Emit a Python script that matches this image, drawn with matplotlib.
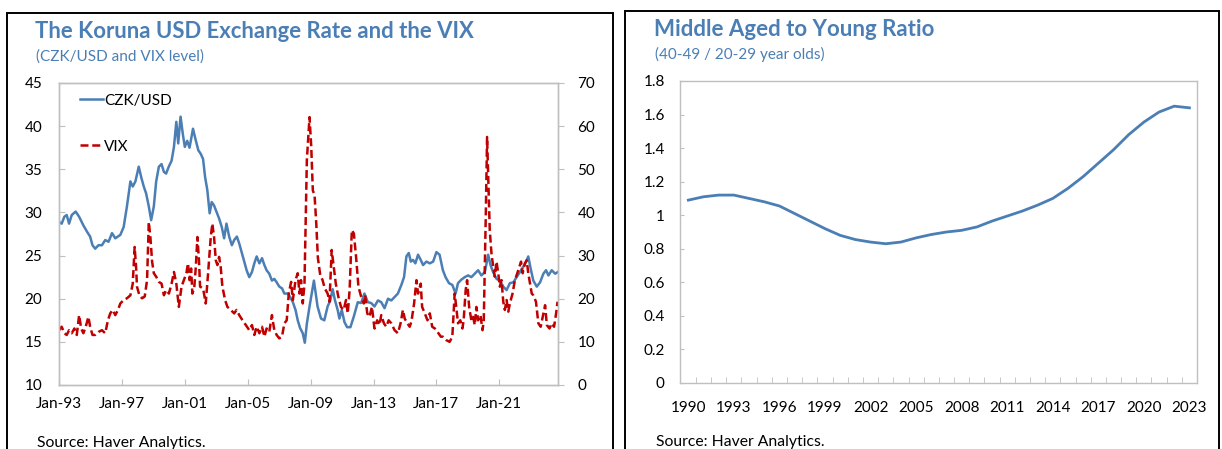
import matplotlib
matplotlib.use("Agg")
import matplotlib.pyplot as plt
from matplotlib.patches import Rectangle

plt.rcParams['font.family'] = ['Lato', 'DejaVu Sans']

# --- left panel: CZK/USD and VIX (decimal years) ---
czk_t = [1993.00, 1993.17, 1993.34, 1993.49, 1993.64, 1993.81, 1994.06, 1994.28, 1994.55, 1994.77,
         1994.98, 1995.13, 1995.30, 1995.51, 1995.73, 1995.94, 1996.15, 1996.37, 1996.58, 1996.90,
         1997.11, 1997.32, 1997.54, 1997.69, 1997.86, 1998.07, 1998.24, 1998.39, 1998.54, 1998.71,
         1998.86, 1999.03, 1999.18, 1999.35, 1999.52, 1999.67, 1999.81, 1999.98, 2000.16, 2000.31,
         2000.46, 2000.58, 2000.73, 2000.88, 2001.00, 2001.15, 2001.30, 2001.52, 2001.69, 2001.86,
         2002.01, 2002.16, 2002.29, 2002.43, 2002.58, 2002.71, 2002.86, 2003.01, 2003.18, 2003.35,
         2003.50, 2003.65, 2003.82, 2003.99, 2004.14, 2004.31, 2004.46, 2004.63, 2004.78, 2004.93,
         2005.10, 2005.27, 2005.42, 2005.57, 2005.74, 2005.91, 2006.06, 2006.20, 2006.37, 2006.54,
         2006.69, 2006.84, 2007.01, 2007.18, 2007.33, 2007.54, 2007.70, 2007.87, 2008.04, 2008.18,
         2008.33, 2008.50, 2008.63, 2008.76, 2008.93, 2009.21, 2009.44, 2009.66, 2009.87, 2010.08,
         2010.25, 2010.40, 2010.55, 2010.72, 2010.83, 2010.98, 2011.15, 2011.32, 2011.53, 2011.74,
         2012.00, 2012.21, 2012.42, 2012.64, 2012.85, 2013.06, 2013.28, 2013.49, 2013.70, 2013.92,
         2014.13, 2014.34, 2014.55, 2014.77, 2014.94, 2015.09, 2015.24, 2015.37, 2015.51, 2015.66,
         2015.83, 2016.00, 2016.15, 2016.36, 2016.58, 2016.79, 2017.00, 2017.20, 2017.41, 2017.58,
         2017.80, 2018.01, 2018.22, 2018.37, 2018.58, 2018.80, 2019.01, 2019.22, 2019.44, 2019.65,
         2019.86, 2020.08, 2020.29, 2020.44, 2020.60, 2020.82, 2021.03, 2021.25, 2021.46, 2021.67,
         2021.89, 2022.10, 2022.31, 2022.52, 2022.70, 2022.84, 2022.99, 2023.16, 2023.38, 2023.59,
         2023.80, 2023.97, 2024.12, 2024.33, 2024.55, 2024.73]
czk = [28.9, 28.7, 29.5, 29.7, 28.7, 29.7, 30.1, 29.5, 28.5, 27.8,
       27.2, 26.2, 25.8, 26.2, 26.2, 26.8, 26.6, 27.6, 27.0, 27.4,
       28.3, 30.7, 33.6, 33.0, 33.6, 35.3, 34.0, 33.0, 32.2, 30.7,
       29.1, 30.7, 33.6, 35.3, 35.6, 34.7, 34.5, 35.3, 36.0, 37.6,
       40.5, 38.0, 41.1, 39.0, 37.6, 38.3, 37.5, 39.7, 38.4, 37.2,
       36.8, 36.2, 34.1, 32.6, 29.9, 31.2, 30.8, 30.1, 29.3, 28.3,
       27.0, 28.7, 27.2, 26.2, 26.8, 27.2, 26.4, 25.3, 24.3, 23.3,
       22.5, 23.1, 24.1, 24.9, 24.1, 24.7, 23.9, 23.3, 22.9, 22.1,
       22.3, 21.9, 21.4, 21.2, 20.6, 20.6, 20.2, 19.6, 18.7, 17.5,
       16.6, 16.0, 14.9, 17.1, 19.1, 22.1, 19.1, 17.7, 17.5, 19.1,
       19.8, 21.1, 19.8, 18.7, 17.7, 18.7, 17.3, 16.7, 16.7, 17.9,
       19.6, 19.5, 20.6, 19.6, 19.5, 19.1, 19.8, 19.6, 18.9, 20.0,
       19.8, 20.2, 20.6, 21.6, 22.5, 24.9, 25.3, 24.3, 24.5, 24.1,
       25.1, 24.5, 23.9, 24.3, 24.1, 24.3, 25.4, 25.1, 23.3, 22.5,
       21.8, 21.6, 20.6, 21.8, 22.2, 22.5, 22.7, 22.5, 22.9, 23.3,
       22.7, 23.1, 25.1, 23.9, 23.1, 22.3, 22.1, 21.4, 21.0, 21.8,
       21.9, 22.5, 23.1, 23.7, 24.3, 24.9, 23.5, 22.1, 21.4, 21.9,
       22.9, 23.3, 22.7, 23.3, 22.9, 23.1]

vix_t = [1993.00, 1993.17, 1993.34, 1993.49, 1993.64, 1993.81, 1993.98, 1994.13, 1994.28, 1994.41,
         1994.55, 1994.70, 1994.87, 1994.98, 1995.13, 1995.30, 1995.51, 1995.73, 1995.94, 1996.11,
         1996.26, 1996.41, 1996.58, 1996.75, 1996.90, 1997.11, 1997.32, 1997.54, 1997.69, 1997.81,
         1997.90, 1997.96, 1998.11, 1998.28, 1998.45, 1998.60, 1998.71, 1998.81, 1998.92, 1999.03,
         1999.18, 1999.35, 1999.52, 1999.67, 1999.82, 1999.99, 2000.16, 2000.31, 2000.46, 2000.62,
         2000.79, 2000.94, 2001.10, 2001.20, 2001.30, 2001.40, 2001.48, 2001.60, 2001.70, 2001.80,
         2001.90, 2001.97, 2002.16, 2002.33, 2002.48, 2002.65, 2002.75, 2002.86, 2002.97, 2003.07,
         2003.18, 2003.28, 2003.39, 2003.56, 2003.71, 2003.92, 2004.14, 2004.29, 2004.46, 2004.67,
         2004.88, 2005.10, 2005.27, 2005.42, 2005.57, 2005.74, 2005.91, 2006.06, 2006.20, 2006.37,
         2006.54, 2006.69, 2006.84, 2007.01, 2007.18, 2007.33, 2007.48, 2007.61, 2007.76, 2007.87,
         2008.04, 2008.18, 2008.29, 2008.39, 2008.50, 2008.61, 2008.76, 2008.93, 2009.04, 2009.14,
         2009.25, 2009.36, 2009.46, 2009.61, 2009.76, 2009.90, 2010.08, 2010.20, 2010.34, 2010.47,
         2010.60, 2010.76, 2010.93, 2011.10, 2011.25, 2011.36, 2011.48, 2011.62, 2011.75, 2011.89,
         2012.04, 2012.21, 2012.38, 2012.47, 2012.60, 2012.74, 2012.90, 2013.06, 2013.23, 2013.38,
         2013.49, 2013.66, 2013.81, 2013.96, 2014.13, 2014.34, 2014.55, 2014.72, 2014.87, 2014.98,
         2015.15, 2015.30, 2015.41, 2015.58, 2015.73, 2015.83, 2016.00, 2016.09, 2016.26, 2016.43,
         2016.58, 2016.73, 2016.90, 2017.07, 2017.28, 2017.41, 2017.63, 2017.84, 2018.01, 2018.16,
         2018.26, 2018.37, 2018.52, 2018.65, 2018.73, 2018.86, 2018.95, 2019.08, 2019.22, 2019.33,
         2019.44, 2019.54, 2019.65, 2019.80, 2019.93, 2020.01, 2020.14, 2020.22, 2020.31, 2020.39,
         2020.50, 2020.61, 2020.71, 2020.82, 2020.93, 2021.03, 2021.14, 2021.25, 2021.35, 2021.46,
         2021.57, 2021.67, 2021.84, 2021.99, 2022.14, 2022.27, 2022.38, 2022.48, 2022.63, 2022.74,
         2022.84, 2022.95, 2023.06, 2023.16, 2023.33, 2023.48, 2023.63, 2023.80, 2023.91, 2024.02,
         2024.19, 2024.33, 2024.48, 2024.61, 2024.70]
vix = [12.7, 13.5, 12.0, 11.6, 12.7, 12.0, 13.1, 11.6, 16.2, 13.1,
       12.0, 13.5, 15.8, 13.5, 11.6, 11.6, 12.3, 12.7, 12.0, 15.0,
       16.6, 17.4, 16.2, 17.4, 18.9, 19.7, 20.1, 20.8, 23.5, 32.0,
       27.4, 22.8, 20.8, 20.1, 20.5, 24.3, 37.8, 34.3, 28.6, 25.9,
       25.1, 23.9, 23.5, 20.8, 22.0, 21.2, 23.5, 26.2, 23.5, 18.1,
       22.8, 24.3, 25.9, 28.2, 24.3, 27.0, 21.2, 22.5, 27.4, 34.3,
       28.9, 22.8, 22.4, 18.9, 25.9, 34.3, 37.4, 34.3, 28.9, 27.8,
       29.7, 27.4, 22.8, 19.7, 18.1, 17.4, 16.6, 17.4, 16.2, 15.0,
       13.9, 12.7, 13.9, 11.6, 13.5, 12.0, 13.5, 11.2, 13.1, 12.3,
       16.2, 12.7, 11.6, 10.8, 11.2, 14.3, 15.0, 21.2, 23.9, 19.7,
       24.3, 25.9, 21.2, 24.3, 18.9, 23.5, 52.1, 62.1, 55.2, 45.1,
       44.0, 37.4, 29.5, 25.5, 24.3, 22.4, 21.2, 19.3, 31.3, 27.4,
       23.5, 20.5, 18.1, 17.4, 19.7, 16.6, 22.0, 35.9, 35.1, 29.7,
       22.8, 20.5, 18.9, 20.8, 16.6, 15.8, 18.1, 13.1, 15.0, 13.9,
       16.2, 14.3, 13.5, 15.0, 14.3, 12.7, 12.0, 14.3, 17.4, 15.4,
       14.3, 13.5, 14.7, 18.9, 24.3, 21.2, 23.5, 18.1, 16.6, 15.0,
       16.6, 13.5, 13.1, 12.3, 11.2, 11.2, 10.4, 10.0, 11.2, 21.2,
       18.1, 14.3, 15.0, 13.1, 15.0, 22.0, 24.3, 18.1, 15.0, 15.8,
       13.9, 18.1, 15.0, 16.2, 12.7, 15.0, 39.7, 57.5, 45.9, 35.9,
       30.5, 27.4, 25.1, 28.6, 25.9, 22.8, 24.3, 19.3, 17.4, 19.7,
       17.0, 18.9, 21.2, 24.3, 25.9, 27.4, 28.6, 25.9, 28.2, 28.9,
       25.9, 23.5, 21.2, 20.8, 19.3, 14.3, 13.5, 16.6, 18.5, 13.9,
       13.1, 14.3, 13.5, 16.6, 19.3]

left_ticks = [1993, 1997, 2001, 2005, 2009, 2013, 2017, 2021]
left_ticklabels = ['Jan-93', 'Jan-97', 'Jan-01', 'Jan-05', 'Jan-09', 'Jan-13', 'Jan-17', 'Jan-21']

# --- right panel: 40-49 / 20-29 ratio ---
years = list(range(1990, 2024))
ratio = [1.09, 1.11, 1.12, 1.12, 1.10, 1.08, 1.055, 1.01, 0.965, 0.92,
         0.88, 0.855, 0.84, 0.83, 0.84, 0.865, 0.885, 0.90, 0.91, 0.93,
         0.965, 0.995, 1.025, 1.06, 1.10, 1.16, 1.23, 1.31, 1.39, 1.48,
         1.555, 1.615, 1.65, 1.64]

BLUE = '#4a7eb4'
RED = '#c00000'
TITLE = '#4a7eb4'
SPINE = '#bfbfbf'
W, H = 1222, 449
TICK_FS = 11

fig = plt.figure(figsize=(W / 100, H / 100), dpi=100)


def fx(px):
    return px / W


def fy(py):
    return 1 - py / H


# panel frames
for x0, x1, top in [(7, 613, 13), (625, 1219, 11)]:
    fig.add_artist(Rectangle((fx(x0), -0.05), fx(x1 - x0), fy(top) + 0.05,
                             transform=fig.transFigure, fill=False,
                             ec='black', lw=1.4, clip_on=False))

# titles and notes
fig.text(fx(35), fy(38), 'The Koruna USD Exchange Rate and the VIX', color=TITLE,
         fontsize=15.9, fontweight='bold', va='baseline')
fig.text(fx(36), fy(61), '(CZK/USD and VIX level)', color=TITLE, fontsize=11, va='baseline')
fig.text(fx(37), fy(447), 'Source: Haver Analytics.', fontsize=11.3, va='baseline')

fig.text(fx(654), fy(36), 'Middle Aged to Young Ratio', color=TITLE,
         fontsize=16, fontweight='bold', va='baseline')
fig.text(fx(655), fy(59), '(40-49 / 20-29 year olds)', color=TITLE, fontsize=11, va='baseline')
fig.text(fx(656), fy(446), 'Source: Haver Analytics.', fontsize=11.3, va='baseline')

# left chart
ax = fig.add_axes([fx(59), fy(385), fx(558 - 59), (385 - 83) / H])
ax2 = ax.twinx()
ax.plot(czk_t, czk, color=BLUE, lw=1.8, label='CZK/USD')
ax2.plot(vix_t, vix, color=RED, lw=1.8, ls=(0, (3.2, 1.5)), label='VIX')
ax.set_xlim(1993, 2024.73)
ax.set_ylim(10, 45)
ax2.set_ylim(0, 70)
ax.set_yticks(range(10, 46, 5))
ax2.set_yticks(range(0, 71, 10))
ax.set_xticks(left_ticks)
ax.set_xticklabels(left_ticklabels)
ax.tick_params(axis='x', direction='in', length=4, color=SPINE, labelsize=TICK_FS, pad=9)
ax.tick_params(axis='y', direction='in', length=4, color=SPINE, labelsize=TICK_FS, pad=12)
ax2.tick_params(axis='y', direction='out', length=4, color=SPINE, labelsize=TICK_FS, pad=10)
for a in (ax, ax2):
    for s in a.spines.values():
        s.set_color(SPINE)
        s.set_linewidth(1.0)
h1, l1 = ax.get_legend_handles_labels()
h2, l2 = ax2.get_legend_handles_labels()
ax2.legend(h1 + h2, l1 + l2, loc='upper left', bbox_to_anchor=(0.02, 1.0), frameon=False,
           fontsize=TICK_FS, handlelength=1.5, handletextpad=0.1, labelspacing=2.1,
           borderaxespad=0.3)

# right chart
bx = fig.add_axes([fx(680), fy(383), fx(1197 - 680), (383 - 81) / H])
bx.plot(years, ratio, color=BLUE, lw=2.0)
bx.set_xlim(1989.45, 2023.5)
bx.set_ylim(0, 1.8)
bx.set_yticks([0, 0.2, 0.4, 0.6, 0.8, 1.0, 1.2, 1.4, 1.6, 1.8])
bx.set_yticklabels(['0', '0.2', '0.4', '0.6', '0.8', '1', '1.2', '1.4', '1.6', '1.8'])
bx.set_xticks(range(1990, 2024, 3))
bx.set_xticks([y + 0.5 for y in years[:-1]], minor=True)
bx.tick_params(axis='x', which='major', length=0, labelsize=TICK_FS, pad=13)
bx.tick_params(axis='x', which='minor', direction='in', length=4, color=SPINE)
bx.tick_params(axis='y', direction='in', length=3, color=SPINE, labelsize=TICK_FS, pad=11)
for s in bx.spines.values():
    s.set_color(SPINE)
    s.set_linewidth(1.0)

fig.savefig('out.png', dpi=100)
